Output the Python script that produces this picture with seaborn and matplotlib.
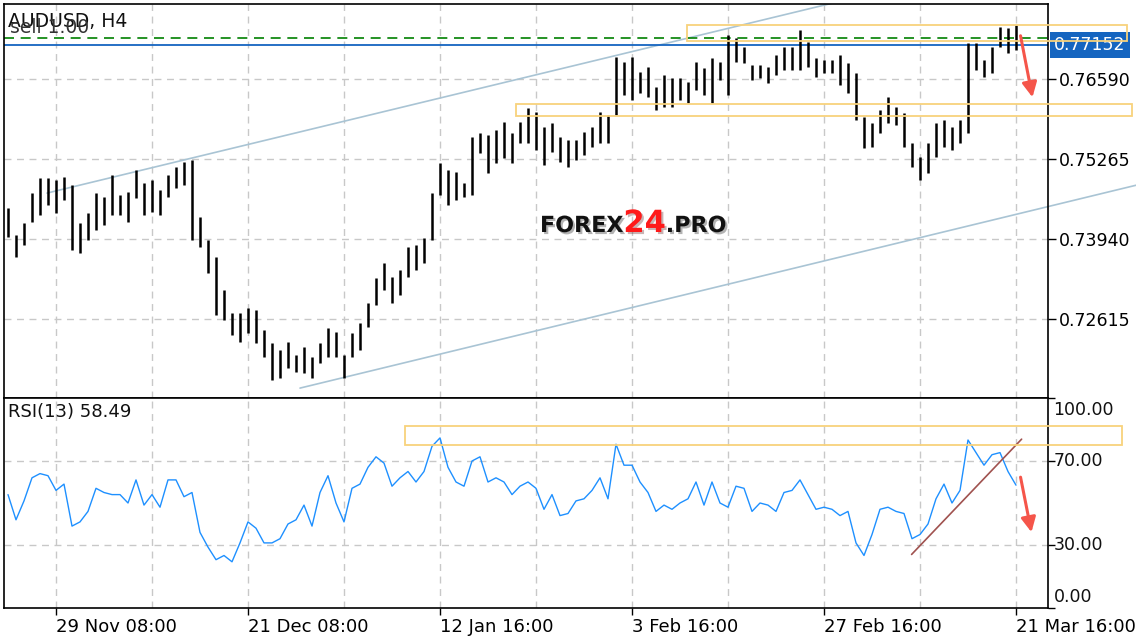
import numpy as np
import seaborn as sns
import matplotlib.pyplot as plt
import matplotlib.patches as mpatches
import matplotlib.patheffects as pe

# AUDUSD H4, high/low of every 4th bar
price_high = [
    0.74453, 0.74006, 0.74204, 0.74701, 0.74950, 0.74950, 0.74917, 0.74966, 0.74834, 0.74204,
    0.74370, 0.74701, 0.74635, 0.75000, 0.74668, 0.74718, 0.75082, 0.74867, 0.74917, 0.74751,
    0.75000, 0.75132, 0.75215, 0.75248, 0.74304, 0.73923, 0.73641, 0.73095, 0.72714, 0.72714,
    0.72797, 0.72764, 0.72432, 0.72217, 0.72101, 0.72234, 0.72018, 0.72151, 0.71985, 0.72217,
    0.72465, 0.72399, 0.72018, 0.72383, 0.72548, 0.72879, 0.73294, 0.73542, 0.73310, 0.73426,
    0.73807, 0.73840, 0.73956, 0.74701, 0.75198, 0.75082, 0.75049, 0.74867, 0.75629, 0.75695,
    0.75662, 0.75745, 0.75877, 0.75695, 0.75877, 0.76109, 0.76043, 0.75794, 0.75861, 0.75629,
    0.75579, 0.75579, 0.75712, 0.75794, 0.76043, 0.75993, 0.76954, 0.76871, 0.76954, 0.76705,
    0.76788, 0.76457, 0.76656, 0.76606, 0.76606, 0.76540, 0.76871, 0.76772, 0.76937, 0.76871,
    0.77318, 0.77269, 0.77120, 0.76821, 0.76821, 0.76788, 0.76987, 0.77120, 0.77120, 0.77401,
    0.77202, 0.76937, 0.76904, 0.76904, 0.76987, 0.76855, 0.76689, 0.75960, 0.75861, 0.76076,
    0.76291, 0.76126, 0.76026, 0.75530, 0.75298, 0.75530, 0.75861, 0.75910, 0.75794, 0.75910,
    0.77186, 0.77186, 0.76904, 0.77120, 0.77451, 0.77434, 0.77484,
]
price_low = [
    0.73973, 0.73641, 0.73840, 0.74221, 0.74337, 0.74503, 0.74370, 0.74585, 0.73757, 0.73708,
    0.73923, 0.74089, 0.74171, 0.74337, 0.74337, 0.74221, 0.74619, 0.74337, 0.74387, 0.74337,
    0.74635, 0.74784, 0.74834, 0.73923, 0.73807, 0.73376, 0.72681, 0.72598, 0.72349, 0.72234,
    0.72383, 0.72217, 0.71985, 0.71604, 0.71637, 0.71803, 0.71737, 0.71720, 0.71637, 0.71886,
    0.71985, 0.71985, 0.71637, 0.71985, 0.72101, 0.72482, 0.72846, 0.73095, 0.72879, 0.73012,
    0.73310, 0.73426, 0.73542, 0.73923, 0.74668, 0.74503, 0.74585, 0.74635, 0.74668, 0.75364,
    0.75033, 0.75198, 0.75281, 0.75198, 0.75530, 0.75530, 0.75414, 0.75165, 0.75380, 0.75215,
    0.75132, 0.75248, 0.75331, 0.75463, 0.75530, 0.75530, 0.75993, 0.76324, 0.76242, 0.76358,
    0.76291, 0.76076, 0.76126, 0.76126, 0.76242, 0.76192, 0.76407, 0.76324, 0.76192, 0.76573,
    0.76324, 0.76871, 0.76855, 0.76573, 0.76606, 0.76523, 0.76656, 0.76739, 0.76739, 0.76739,
    0.76788, 0.76623, 0.76689, 0.76689, 0.76490, 0.76358, 0.75910, 0.75447, 0.75463, 0.75695,
    0.75861, 0.75828, 0.75463, 0.75132, 0.74917, 0.75033, 0.75298, 0.75463, 0.75414, 0.75530,
    0.75695, 0.76739, 0.76623, 0.76689, 0.77120, 0.77020, 0.77070,
]
rsi_vals = [
    54, 42, 51, 62, 64, 63, 56, 59, 39, 41,
    46, 57, 55, 54, 54, 50, 61, 49, 54, 48,
    61, 61, 53, 55, 36, 29, 23, 25, 22, 31,
    41, 38, 31, 31, 33, 40, 42, 49, 39, 55,
    63, 50, 41, 57, 59, 67, 72, 69, 58, 62,
    65, 60, 65, 77, 81, 67, 60, 58, 70, 72,
    60, 62, 60, 54, 58, 60, 57, 47, 54, 44,
    45, 51, 52, 56, 62, 52, 78, 68, 68, 60,
    55, 46, 49, 47, 50, 52, 60, 49, 60, 50,
    48, 58, 57, 46, 50, 49, 46, 55, 56, 61,
    54, 47, 48, 47, 44, 46, 31, 25, 35, 47,
    48, 46, 45, 33, 35, 40, 52, 59, 50, 56,
    80, 74, 68, 73, 74, 65, 58.49,
]

tick_bars = [26, 122, 218, 314, 410, 506]
tick_labels = ["29 Nov 08:00", "21 Dec 08:00", "12 Jan 16:00",
               "3 Feb 16:00", "27 Feb 16:00", "21 Mar 16:00"]
price_ticks = [0.72615, 0.73940, 0.75265, 0.76590]
current_price = 0.77152
sell_level = 0.77264
rsi_ticks = [0, 30, 70, 100]

# drawn objects (bar number, price / rsi)
channel_up = ([21.5, 522], [0.7470, 0.7871])
channel_low = ([148, 566], [0.7147, 0.7483])
zones = [(341.5, 561.5, 0.77219, 0.77484), (256, 564, 0.75977, 0.76175)]
rsi_zone = (200.5, 559, 77.5, 86.7)
rsi_trend = ([453.8, 508.8], [25.5, 80.4])

bars = np.arange(len(price_high)) * 4 + 2   # H4 bar number

sns.set_theme(style="ticks")
plt.rcParams['font.family'] = ['DejaVu Sans']

W, H = 1136, 640
fig = plt.figure(figsize=(W / 100, H / 100), dpi=100)
ax = fig.add_axes([4 / W, (H - 398) / H, 1044 / W, 394 / H])
ax2 = fig.add_axes([4 / W, (H - 608) / H, 1044 / W, 210 / H], sharex=ax)

grid_kw = dict(color='#c8c8c8', ls=(0, (5, 4)), lw=1, zorder=0)
for g in range(26, 522, 48):
    ax.axvline(g, **grid_kw)
    ax2.axvline(g, **grid_kw)
for p in price_ticks:
    ax.axhline(p, **grid_kw)
for r in [30, 70]:
    ax2.axhline(r, **grid_kw)

# price bars
ax.vlines(bars, price_low, price_high, color='black', lw=1.8, zorder=3)
ax.set_xlim(0, 522)
ax.set_ylim(0.71306, 0.77832)

ax.axhline(sell_level, color='#008000', ls=(0, (6, 4)), lw=1.2, zorder=2)
ax.axhline(current_price, color='#1565c0', lw=1.3, zorder=2)

ax.plot(*channel_up, color='#a9c4d4', lw=1.2, zorder=1)
ax.plot(*channel_low, color='#a9c4d4', lw=1.2, zorder=1, clip_on=False)

for x0, x1, y0, y1 in zones:
    ax.add_patch(mpatches.Rectangle((x0, y0), x1 - x0, y1 - y0, fill=False, ec='#f8d27c',
                                    lw=1.3, clip_on=False, zorder=4))

ax.annotate('', xy=(514.5, 0.76242), xytext=(508, 0.77351),
            arrowprops=dict(arrowstyle='-|>', color='#f5554a', lw=2.2, mutation_scale=22),
            annotation_clip=False, zorder=6)

# labels on main panel (the order label sits over the symbol, as in the terminal)
ax.text(0.0038, 0.9416, "AUDUSD, H4", transform=ax.transAxes, fontsize=13.5,
        va='baseline', color='#111111')
ax.text(0.0057, 0.9264, "sell 1.00", transform=ax.transAxes, fontsize=13.5,
        va='baseline', color='#333333')

# watermark
renderer = fig.canvas.get_renderer()
wx = 0.5134
for s, size, col in [("FOREX", 16, '#111111'), ("24", 22, '#ff1a1a'), (".PRO", 16, '#111111')]:
    t = ax.text(wx, 0.4213, s, transform=ax.transAxes, fontsize=size, fontweight='heavy',
                color=col, va='baseline', zorder=7,
                path_effects=[pe.withSimplePatchShadow(offset=(1.5, -1.5), alpha=0.3)])
    bb = t.get_window_extent(renderer)
    wx = ax.transAxes.inverted().transform((bb.x1, bb.y0))[0]

ax.yaxis.tick_right()
ax.set_yticks(price_ticks)
ax.set_yticklabels([f"{p:.5f}" for p in price_ticks])
ax.tick_params(axis='y', length=6, width=1, labelsize=12.5, pad=2, colors='black')
ax.tick_params(axis='x', bottom=False, labelbottom=False)

ax.annotate(f"{current_price:.5f}", xy=(1, current_price), xycoords=('axes fraction', 'data'),
            xytext=(4.5, 0), textcoords='offset points', va='center', ha='left',
            color='white', fontsize=12.5, annotation_clip=False,
            bbox=dict(boxstyle='square,pad=0.25', fc='#1565c0', ec='none'))

# RSI panel
sns.lineplot(x=bars, y=rsi_vals, ax=ax2, color='#1e90ff', lw=1, zorder=3)
ax2.set_ylim(0, 100)
ax2.plot(*rsi_trend, color='#a0524f', lw=1.2, zorder=4)
ax2.add_patch(mpatches.Rectangle((rsi_zone[0], rsi_zone[2]), rsi_zone[1] - rsi_zone[0],
                                 rsi_zone[3] - rsi_zone[2], fill=False, ec='#f8d27c', lw=1.3,
                                 clip_on=False, zorder=4))
ax2.annotate('', xy=(514, 34.8), xytext=(508, 63.6),
             arrowprops=dict(arrowstyle='-|>', color='#f5554a', lw=2.2, mutation_scale=22),
             annotation_clip=False, zorder=6)
ax2.text(0.0038, 0.9095, "RSI(13) 58.49", transform=ax2.transAxes, fontsize=13,
         va='baseline', color='#111111')

ax2.yaxis.tick_right()
ax2.set_yticks(rsi_ticks)
ax2.set_yticklabels([])
ax2.tick_params(axis='y', length=5, width=1, colors='black')
for v in rsi_ticks:
    dy = -8.6 if v == 100 else (7.6 if v == 0 else 0)
    ax2.annotate(f"{v:.2f}", xy=(1, v), xycoords=('axes fraction', 'data'),
                 xytext=(4, dy), textcoords='offset points', va='center', ha='left',
                 fontsize=12.5, color='#111111', annotation_clip=False)

ax2.set_xticks(tick_bars)
ax2.set_xticklabels(tick_labels, ha='left')
ax2.tick_params(axis='x', length=5, width=1, labelsize=13, pad=2, colors='black')
ax2.set_xlabel('')
ax2.set_ylabel('')

for a in (ax, ax2):
    for sp in a.spines.values():
        sp.set_visible(True)
        sp.set_color('black')
        sp.set_linewidth(1.2)

fig.savefig('out.png', dpi=100)
